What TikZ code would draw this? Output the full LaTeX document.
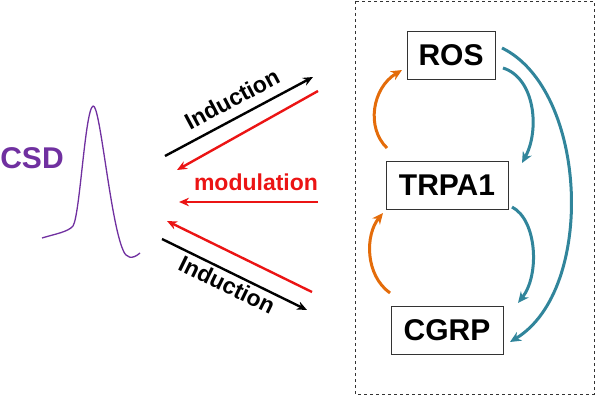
\documentclass[tikz,border=0pt]{standalone}
\usepackage{fontspec}
\setmainfont{Liberation Sans}
\usetikzlibrary{arrows.meta}
\definecolor{csdpurple}{RGB}{112,48,160}
\definecolor{orng}{RGB}{228,108,10}
\definecolor{teal2}{RGB}{49,133,155}
\definecolor{redarr}{RGB}{235,20,20}
\tikzset{
  box/.style={draw=black!80,line width=0.9pt,minimum height=48pt,inner sep=0pt,font=\fontsize{30}{31}\selectfont\bfseries},
  lbl/.style={font=\fontsize{23}{25}\selectfont\bfseries,inner sep=0pt},
  sarrow/.style={line width=2.4pt,-{Stealth[length=10pt,width=8.5pt]}},
  carrow/.style={line width=3pt,-{Stealth[length=11pt,width=10pt]}},
}
\begin{document}
\begin{tikzpicture}[x=1pt,y=-1pt]
\useasboundingbox (0,0) rectangle (596,406);
% dashed frame
\draw[dashed,line width=0.8pt,black!80] (355,1) rectangle (594,394);
% boxes
\node[box,minimum width=88pt] (ROS) at (451,55) {ROS};
\node[box,minimum width=122pt] (TRPA) at (447,185) {TRPA1};
\node[box,minimum width=112pt] (CGRP) at (447,330) {CGRP};
% CSD
\node[font=\fontsize{30}{31}\selectfont\bfseries,text=csdpurple,inner sep=0pt] (CSD) at (32,158) {CSD};
\draw[csdpurple,line width=1.3pt,line join=round] (42,238) .. controls (55,234) and (68,232) .. (73,226)
  .. controls (80,215) and (85,110) .. (93,106)
  .. controls (100,103) and (110,220) .. (123,250)
  .. controls (126,258) and (132,260) .. (140,253);
% straight arrows
\coordinate (a1s) at (165,156); \coordinate (a1e) at (313,77);
\coordinate (a2s) at (318,91);  \coordinate (a2e) at (177,170);
\coordinate (a3s) at (318,202); \coordinate (a3e) at (179,202);
\coordinate (a4s) at (312,292); \coordinate (a4e) at (167,221);
\coordinate (a5s) at (162,239); \coordinate (a5e) at (307,310);
\draw[sarrow,black] (a1s) -- (a1e);
\draw[sarrow,redarr] (a2s) -- (a2e);
\draw[sarrow,redarr] (a3s) -- (a3e);
\draw[sarrow,redarr] (a4s) -- (a4e);
\draw[sarrow,black] (a5s) -- (a5e);
\node[lbl,rotate=28] (ind1) at (232,99) {Induction};
\node[lbl,text=redarr] (mod) at (256,182) {modulation};
\node[lbl,rotate=-26] (ind2) at (227,285) {Induction};
% curved arrows
\coordinate (o1s) at (387,148); \coordinate (o1e) at (402,70);
\coordinate (o2s) at (390,293); \coordinate (o2e) at (383,213);
\coordinate (t1s) at (503,68);  \coordinate (t1e) at (522,163);
\coordinate (t2s) at (512,207); \coordinate (t2e) at (518,303);
\coordinate (t3s) at (502,48);  \coordinate (t3e) at (510,342);
\draw[carrow,orng] (o1s) .. controls (366,128) and (372,88) .. (o1e);
\draw[carrow,orng] (o2s) .. controls (365,275) and (365,235) .. (o2e);
\draw[carrow,teal2] (t1s) .. controls (535,78) and (540,130) .. (t1e);
\draw[carrow,teal2] (t2s) .. controls (537,220) and (540,275) .. (t2e);
\draw[carrow,teal2] (t3s) .. controls (588,90) and (596,290) .. (t3e);
\end{tikzpicture}
\end{document}
